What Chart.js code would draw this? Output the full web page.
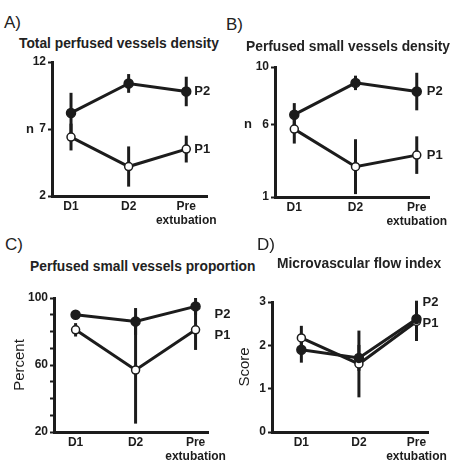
<!DOCTYPE html>
<html lang="en">
<head>
    <meta charset="UTF-8">
    <title>Perfused vessels panels</title>
    <script src="https://cdn.jsdelivr.net/npm/chart.js@4.4.0/dist/chart.umd.min.js"></script>
    <style>
        body {
            margin: 0;
            background: #fff;
            font-family: "Liberation Sans", Arial, sans-serif;
            color: #222;
        }
        .page {
            position: relative;
            width: 455px;
            height: 461px;
            overflow: hidden;
        }
        .letter {
            position: absolute;
            font-size: 17px;
            line-height: 17px;
        }
        .title {
            position: absolute;
            font-size: 13.8px;
            font-weight: bold;
            line-height: 14px;
            white-space: nowrap;
        }
        .panel {
            position: absolute;
        }
    </style>
</head>
<body>
<div class="page">
    <div class="letter" style="left:4px;top:14px;">A)</div>
    <div class="title" style="left:19px;top:37px;">Total perfused vessels density</div>
    <div class="panel" style="left:0px;top:50px;width:230px;height:180px;"><canvas id="chartA"></canvas></div>

    <div class="letter" style="left:226px;top:16px;">B)</div>
    <div class="title" style="left:246px;top:40px;">Perfused small vessels density</div>
    <div class="panel" style="left:225px;top:50px;width:230px;height:180px;"><canvas id="chartB"></canvas></div>

    <div class="letter" style="left:5px;top:236px;">C)</div>
    <div class="title" style="left:30px;top:260px;">Perfused small vessels proportion</div>
    <div class="panel" style="left:0px;top:280px;width:230px;height:181px;"><canvas id="chartC"></canvas></div>

    <div class="letter" style="left:257px;top:236px;">D)</div>
    <div class="title" style="left:277px;top:257px;">Microvascular flow index</div>
    <div class="panel" style="left:225px;top:280px;width:230px;height:181px;"><canvas id="chartD"></canvas></div>
</div>
<script>
    // time points
    var periods = ['D1', 'D2', ['Pre', 'extubation']];

    // A) total perfused vessels density (mean and error)
    var totalP1 = [6.4, 4.2, 5.5];
    var totalP1Err = [1.0, 1.5, 1.0];
    var totalP2 = [8.2, 10.4, 9.8];
    var totalP2Err = [1.5, 0.7, 1.1];
    var totalTicks = [2, 7, 12];

    // B) perfused small vessels density
    var smallP1 = [5.7, 3.1, 3.9];
    var smallP1Err = [1.0, 1.9, 1.3];
    var smallP2 = [6.7, 8.9, 8.3];
    var smallP2Err = [0.8, 0.5, 1.3];
    var smallTicks = [1, 6, 10];

    // C) perfused small vessels proportion
    var propP1 = [81, 57, 81];
    var propP1Err = [4, 32, 12];
    var propP2 = [90, 86, 95];
    var propP2Err = [2, 8, 5];
    var propTicks = [20, 60, 100];

    // D) microvascular flow index
    var mfiP1 = [2.17, 1.57, 2.55];
    var mfiP1Err = [0.28, 0.77, 0.45];
    var mfiP2 = [1.9, 1.71, 2.61];
    var mfiP2Err = [0.3, 0.3, 0.42];
    var mfiTicks = [0, 1, 2, 3];

    var ink = '#1c1c1c';

    // draws vertical error bars under the points, and the P1/P2 labels
    var errorBarPlugin = {
        id: 'errorBars',
        beforeDatasetsDraw: function(chart) {
            var ctx = chart.ctx;
            var y = chart.scales.y;
            ctx.save();
            ctx.strokeStyle = ink;
            ctx.lineWidth = 3;
            chart.data.datasets.forEach(function(ds, i) {
                var meta = chart.getDatasetMeta(i);
                ds.data.forEach(function(pt, j) {
                    var x = meta.data[j].x;
                    ctx.beginPath();
                    ctx.moveTo(x, y.getPixelForValue(pt.y + ds.errors[j]));
                    ctx.lineTo(x, y.getPixelForValue(pt.y - ds.errors[j]));
                    ctx.stroke();
                });
            });
            ctx.restore();
        },
        afterDraw: function(chart, args, opts) {
            var ctx = chart.ctx;
            var xs = chart.scales.x, ys = chart.scales.y;
            ctx.save();
            ctx.fillStyle = ink;
            ctx.font = 'bold 13px "Liberation Sans", Arial, sans-serif';
            ctx.textBaseline = 'middle';
            ctx.textAlign = 'left';
            chart.data.datasets.forEach(function(ds) {
                var last = ds.data[ds.data.length - 1];
                var at = ds.labelAt !== undefined ? ds.labelAt : last.y;
                ctx.fillText(ds.label, xs.getPixelForValue(last.x) + opts.labelGap, ys.getPixelForValue(at));
            });
            if (opts.yLetter) {
                ctx.textAlign = 'center';
                ctx.fillText(opts.yLetter.text, chart.chartArea.left + opts.yLetter.dx, ys.getPixelForValue(opts.yLetter.at));
            }
            ctx.restore();
        }
    };

    function points(values) {
        return values.map(function(v, i) { return { x: i, y: v }; });
    }

    // p: series, axis ranges and the plot box inside the canvas
    function makePanel(id, p) {
        var ctx = document.getElementById(id).getContext('2d');
        return new Chart(ctx, {
            type: 'line',
            data: {
                datasets: [
                    {
                        label: 'P2',
                        data: points(p.p2),
                        errors: p.p2Err,
                        labelAt: p.p2LabelAt,
                        borderColor: ink,
                        borderWidth: 3,
                        backgroundColor: ink,
                        pointBackgroundColor: ink,
                        pointBorderColor: ink,
                        pointBorderWidth: 1.5,
                        pointRadius: 4.5,
                        tension: 0
                    },
                    {
                        label: 'P1',
                        data: points(p.p1),
                        errors: p.p1Err,
                        labelAt: p.p1LabelAt,
                        borderColor: ink,
                        borderWidth: 3,
                        backgroundColor: '#fff',
                        pointBackgroundColor: '#fff',
                        pointBorderColor: ink,
                        pointBorderWidth: 1.5,
                        pointRadius: 4,
                        tension: 0
                    }
                ]
            },
            options: {
                responsive: true,
                maintainAspectRatio: false,
                animation: false,
                layout: { padding: { left: 0, top: p.top, right: p.right, bottom: 0 } },
                plugins: {
                    legend: { display: false },
                    tooltip: { enabled: false },
                    errorBars: { labelGap: p.labelGap, yLetter: p.yLetter }
                },
                scales: {
                    x: {
                        type: 'linear',
                        min: p.xMin,
                        max: p.xMax,
                        afterBuildTicks: function(scale) {
                            scale.ticks = periods.map(function(lab, i) { return { value: i }; });
                        },
                        afterFit: function(scale) { scale.height = p.xAxisH; },
                        ticks: {
                            autoSkip: false,
                            maxRotation: 0,
                            padding: 3,
                            color: ink,
                            font: { family: '"Liberation Sans", Arial, sans-serif', size: 12, weight: 'bold', lineHeight: 1.2 },
                            callback: function(v) { return periods[v]; }
                        },
                        grid: { display: true, drawOnChartArea: false, drawTicks: false },
                        border: { display: true, color: ink, width: 3 }
                    },
                    y: {
                        min: p.yMin,
                        max: p.yMax,
                        afterBuildTicks: function(scale) {
                            var vals = [];
                            if (p.minorStep) {
                                for (var v = p.yMin; v <= p.yMax; v += p.minorStep) vals.push(v);
                            } else {
                                vals = p.yTicks.slice();
                            }
                            scale.ticks = vals.map(function(v) { return { value: v }; });
                        },
                        afterFit: function(scale) { scale.width = p.yAxisW; },
                        ticks: {
                            autoSkip: false,
                            padding: 2,
                            color: ink,
                            font: { family: '"Liberation Sans", Arial, sans-serif', size: 12, weight: 'bold' },
                            callback: function(v) { return p.yTicks.indexOf(v) >= 0 ? v : ''; }
                        },
                        title: p.yTitle ? {
                            display: true,
                            text: p.yTitle,
                            color: ink,
                            padding: { top: 11, bottom: 0 },
                            font: { family: '"Liberation Sans", Arial, sans-serif', size: 15 }
                        } : { display: false },
                        grid: {
                            drawOnChartArea: false,
                            drawTicks: true,
                            tickLength: 4,
                            tickWidth: 2,
                            tickColor: ink
                        },
                        border: { display: true, color: ink, width: 3 }
                    }
                }
            },
            plugins: [errorBarPlugin]
        });
    }

    makePanel('chartA', {
        p1: totalP1, p1Err: totalP1Err, p2: totalP2, p2Err: totalP2Err,
        yMin: 2, yMax: 12, yTicks: totalTicks,
        xMin: -0.33, xMax: 2.36,
        top: 12, right: 23, yAxisW: 52, xAxisH: 34,
        labelGap: 8,
        yLetter: { text: 'n', at: 7, dx: -22 }
    });

    makePanel('chartB', {
        p1: smallP1, p1Err: smallP1Err, p2: smallP2, p2Err: smallP2Err,
        yMin: 1, yMax: 10, yTicks: smallTicks,
        xMin: -0.315, xMax: 2.2,
        top: 17, right: 26, yAxisW: 50, xAxisH: 33,
        labelGap: 10,
        yLetter: { text: 'n', at: 6, dx: -27 }
    });

    makePanel('chartC', {
        p1: propP1, p1Err: propP1Err, p2: propP2, p2Err: propP2Err,
        p2LabelAt: 90.3, p1LabelAt: 77.7,
        yMin: 20, yMax: 100, yTicks: propTicks, minorStep: 10,
        xMin: -0.36, xMax: 2.22,
        top: 18, right: 13, yAxisW: 54, xAxisH: 29,
        labelGap: 19,
        yTitle: 'Percent'
    });

    makePanel('chartD', {
        p1: mfiP1, p1Err: mfiP1Err, p2: mfiP2, p2Err: mfiP2Err,
        p2LabelAt: 3.0, p1LabelAt: 2.5,
        yMin: 0, yMax: 3, yTicks: mfiTicks,
        xMin: -0.51, xMax: 2.2,
        top: 22, right: 27, yAxisW: 47, xAxisH: 29,
        labelGap: 6,
        yTitle: 'Score'
    });
</script>
</body>
</html>
